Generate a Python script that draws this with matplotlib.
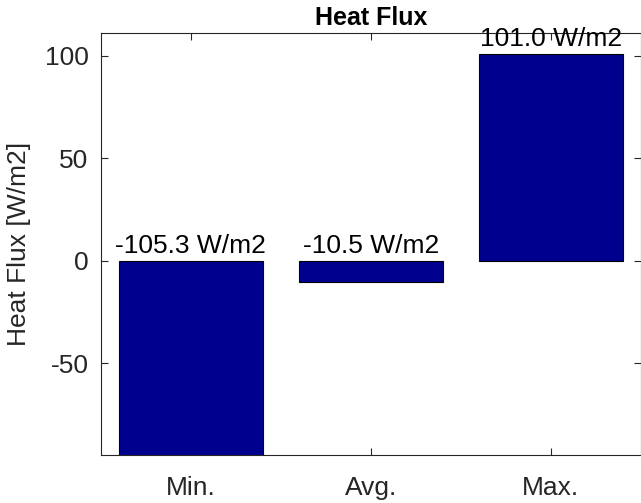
import numpy as np
import matplotlib.pyplot as plt

# Data
categories = ['Min.', 'Avg.', 'Max.']
heat_flux = [-105.3, -10.5, 101.0]
value_labels = ['%.1f W/m2' % v for v in heat_flux]

plt.rcParams['font.family'] = ['Liberation Sans', 'DejaVu Sans']
plt.rcParams['axes.unicode_minus'] = False

fig = plt.figure(figsize=(6.41, 5.03), dpi=100)
ax = fig.add_axes([101 / 641, 48 / 503, 539.5 / 641, 422 / 503])

x = np.arange(1, len(categories) + 1)
ax.bar(x, heat_flux, width=0.8, color='#00008F', edgecolor='black', linewidth=0.8, zorder=2)

# value labels above each bar (or above zero for negative bars)
for xi, v, lab in zip(x, heat_flux, value_labels):
    ax.text(xi, max(v, 0) + 1.5, lab, ha='center', va='bottom', fontsize=19, color='black')

ax.set_xlim(0.5, len(categories) + 0.5)
ax.set_ylim(0.9 * min(heat_flux), 1.1 * max(heat_flux))
ax.set_xticks(x)
ax.set_xticklabels(categories)
ax.set_yticks([-50, 0, 50, 100])

ax.tick_params(direction='in', length=5, width=0.8, colors='#262626', labelsize=19,
               top=True, right=True, labeltop=False, labelright=False)
ax.tick_params(axis='y', pad=9)
ax.tick_params(axis='x', pad=15)
for s in ax.spines.values():
    s.set_color('#262626')
    s.set_linewidth(0.8)

ax.set_ylabel('Heat Flux [W/m2]', fontsize=19, color='#262626', labelpad=10)
ax.set_title('Heat Flux', fontsize=18, fontweight='bold', color='black', pad=6)

plt.savefig('out.png', dpi=100)
